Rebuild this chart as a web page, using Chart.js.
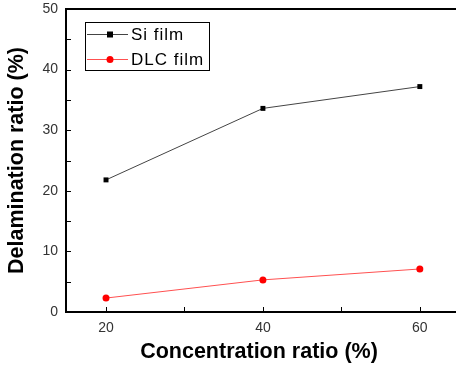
<!DOCTYPE html>
<html>
<head>
<meta charset="utf-8">
<script src="https://cdn.jsdelivr.net/npm/chart.js@4"></script>
<style>
  html, body { margin: 0; padding: 0; background: #fff; }
  #wrap { width: 456px; height: 369px; }
</style>
</head>
<body>
<div id="wrap"><canvas id="chart" width="456" height="369"></canvas></div>
<script>
'use strict';

// ── Data ─────────────────────────────────────────────────────
const concentration = [20, 40, 60];
const siFilm  = [21.8, 33.6, 37.2];
const dlcFilm = [2.3, 5.3, 7.1];
const xTicks = [20, 40, 60];
const xMinor = [30, 50];
const yTicks = [0, 10, 20, 30, 40, 50];
const yMinor = [5, 15, 25, 35, 45];

const FONT = "'Liberation Sans', Arial, sans-serif";

// ── Inward ticks, frame lines and legend box ─────────────────
const framePlugin = {
  id: 'frame',
  afterDraw(chart) {
    const { ctx, chartArea: a, scales: { x, y } } = chart;
    ctx.save();
    ctx.strokeStyle = '#000';
    ctx.lineWidth = 2;
    ctx.beginPath();
    ctx.moveTo(a.left, a.top);
    ctx.lineTo(chart.width, a.top);
    ctx.moveTo(a.left, a.bottom);
    ctx.lineTo(chart.width, a.bottom);
    ctx.stroke();

    ctx.lineWidth = 1;
    ctx.beginPath();
    yTicks.concat(yMinor).forEach(v => {
      const py = Math.round(y.getPixelForValue(v)) + 0.5;
      ctx.moveTo(a.left, py);
      ctx.lineTo(a.left + 5, py);
    });
    xTicks.concat(xMinor).forEach(v => {
      const px = Math.round(x.getPixelForValue(v)) + 0.5;
      ctx.moveTo(px, a.bottom);
      ctx.lineTo(px, a.bottom - 5);
    });
    ctx.stroke();

    // legend
    ctx.strokeStyle = '#000';
    ctx.strokeRect(85.5, 22.5, 124, 48);
    const rows = [
      { y: 34, ds: chart.data.datasets[0] },
      { y: 59, ds: chart.data.datasets[1] }
    ];
    ctx.font = '17px ' + FONT;
    ctx.textBaseline = 'middle';
    ctx.letterSpacing = '1px';
    rows.forEach(r => {
      ctx.strokeStyle = r.ds.borderColor;
      ctx.lineWidth = 1;
      ctx.beginPath();
      ctx.moveTo(87, r.y + 0.5);
      ctx.lineTo(128, r.y + 0.5);
      ctx.stroke();
      ctx.fillStyle = r.ds.pointBackgroundColor;
      if (r.ds.pointStyle === 'rect') {
        ctx.fillRect(107, r.y - 2.5, 6, 6);
      } else {
        ctx.beginPath();
        ctx.arc(110, r.y + 0.5, 3.5, 0, Math.PI * 2);
        ctx.fill();
      }
      ctx.fillStyle = '#000';
      ctx.fillText(r.ds.label, 131, r.y + 1);
    });
    ctx.restore();
  }
};

new Chart(document.getElementById('chart'), {
  type: 'line',
  data: {
    datasets: [
      {
        label: 'Si film',
        data: concentration.map((c, i) => ({ x: c, y: siFilm[i] })),
        borderColor: '#444',
        borderWidth: 1,
        pointStyle: 'rect',
        pointRadius: 3.5,
        pointBackgroundColor: '#000',
        pointBorderColor: '#000',
        pointBorderWidth: 0
      },
      {
        label: 'DLC film',
        data: concentration.map((c, i) => ({ x: c, y: dlcFilm[i] })),
        borderColor: '#ff5050',
        borderWidth: 1,
        pointStyle: 'circle',
        pointRadius: 3.5,
        pointBackgroundColor: '#ff0000',
        pointBorderColor: '#ff0000',
        pointBorderWidth: 0
      }
    ]
  },
  options: {
    responsive: false,
    animation: false,
    layout: { padding: { top: 9, right: 0, left: 0, bottom: 0 } },
    plugins: { legend: { display: false }, tooltip: { enabled: false } },
    scales: {
      x: {
        type: 'linear',
        min: 14.9,
        max: 64.1,
        afterBuildTicks: s => { s.ticks = xTicks.map(v => ({ value: v })); },
        afterFit: s => { s.height = 57; },
        grid: { display: false },
        border: { display: false },
        ticks: { color: '#333', padding: 0, font: { family: FONT, size: 14 } },
        title: {
          display: true,
          text: 'Concentration ratio (%)',
          color: '#000',
          font: { family: FONT, size: 21.5, weight: 'bold' },
          padding: { top: 2, bottom: 4 }
        }
      },
      y: {
        min: 0,
        max: 50,
        afterBuildTicks: s => { s.ticks = yTicks.map(v => ({ value: v })); },
        afterFit: s => { s.width = 66; },
        grid: { display: false },
        border: { display: true, color: '#000', width: 2 },
        ticks: { color: '#333', padding: 0, font: { family: FONT, size: 14 } },
        title: {
          display: true,
          text: 'Delamination ratio (%)',
          color: '#000',
          font: { family: FONT, size: 21.5, weight: 'bold' },
          padding: { top: 4, bottom: 4 }
        }
      }
    }
  },
  plugins: [framePlugin]
});
</script>
</body>
</html>
